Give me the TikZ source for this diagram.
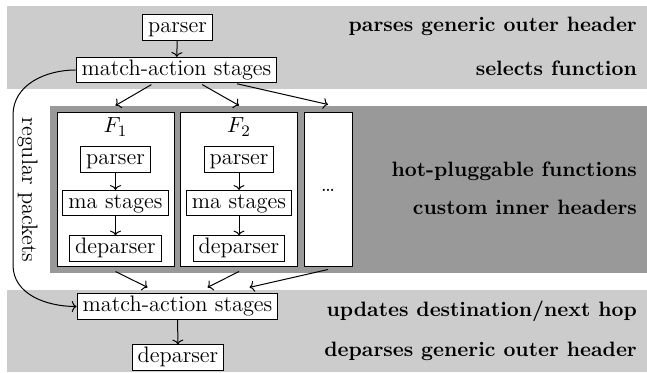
\documentclass[tikz,border=0pt]{standalone}
\usetikzlibrary{arrows.meta}
\definecolor{lightband}{gray}{0.8}
\definecolor{darkband}{gray}{0.6}
\begin{document}
\begin{tikzpicture}[x=.5pt, y=-.5pt, >={To[length=2.4pt,width=5.5pt]}, line width=.5pt,
    font=\fontsize{11.2}{13}\selectfont,
    box/.style={draw, fill=white, inner xsep=2.8pt, inner ysep=1pt, text height=8pt, text depth=2.6pt},
    func/.style={draw, fill=white, minimum width=58.5pt, minimum height=77pt},
    note/.style={anchor=base east, font=\fontsize{10.4}{12}\selectfont\bfseries}]
\useasboundingbox (0,0) rectangle (647,373);

% background bands
\fill[lightband] (7,6) rectangle (647,89);
\fill[darkband] (50,106) rectangle (647,273);
\fill[lightband] (7,290) rectangle (647,372);

\node[box] (parser) at (177.5,27.5) {parser};
\node[box] (match) at (176.5,70) {match-action stages};
\draw[->] (parser) -- (match);

\foreach \name/\x/\i in {f1/115.5/1, f2/239/2}
{
    \node[func] (\name) at (\x,190) {};
    \node (\name label) at (\x,127) {$F_\i$};
    \node[box] (\name parser) at (\x,159.5) {parser};
    \node[box] (\name ma) at (\x,203) {ma stages};
    \node[box] (\name dep) at (\x,248.5) {deparser};
    \draw[->] (\name parser) -- (\name ma);
    \draw[->] (\name ma) -- (\name dep);
}
\node[func, minimum width=24pt] (more) at (328,190) {\dots};

\draw[->, shorten <=1.5pt] (match) -- ([yshift=3.5pt]f1.north);
\draw[->, shorten <=1.5pt] (match) -- ([yshift=3.5pt]f2.north);
\draw[->, shorten <=1.5pt] (match) -- ([yshift=4pt]more.north);

\node[box] (update) at (177.5,306.5) {match-action stages};
\node[box] (deparser) at (178,357.5) {deparser};
\draw[->] (update) -- (deparser);

\draw[->] ([yshift=-2pt]f1.south) -- ([xshift=-15pt,yshift=3pt]update.north);
\draw[->] ([yshift=-2pt]f2.south) -- ([xshift=15pt,yshift=3pt]update.north);
\draw[->] ([yshift=-1pt]more.south) -- ([xshift=36pt,yshift=3pt]update.north);

% bypass for regular packets
\draw[->] (match.west) to[out=180,in=90] (13,115)
    -- node[midway, rotate=-90, anchor=south, inner sep=2pt] (regular) {regular packets} (13,265)
    to[out=-90,in=180] (update.west);

\node[note] (n1) at (644,32) {parses generic outer header};
\node[note] (n2) at (644,76) {selects function};
\node[note] (n3) at (644,177) {hot-pluggable functions};
\node[note] (n4) at (644,215) {custom inner headers};
\node[note] (n5) at (644,317) {updates destination/next hop};
\node[note] (n6) at (644,357) {deparses generic outer header};
\end{tikzpicture}
\end{document}
